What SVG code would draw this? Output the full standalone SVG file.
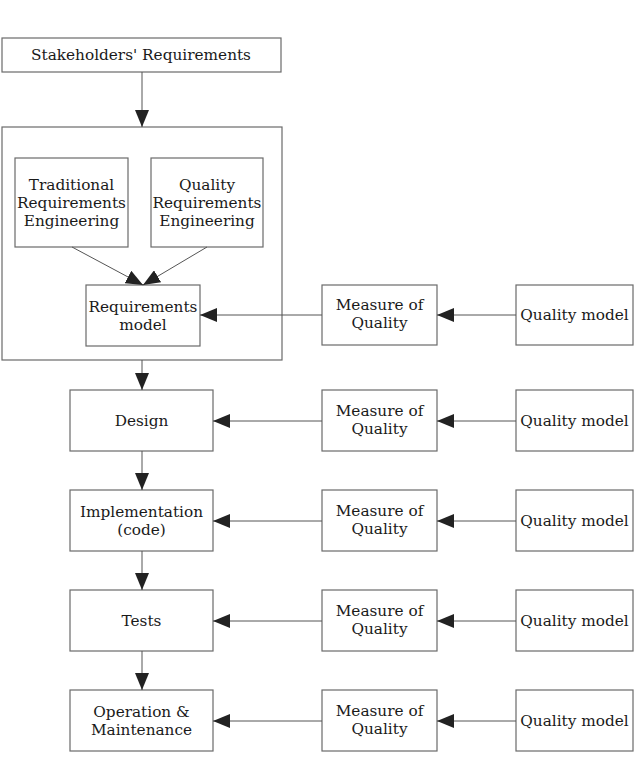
<svg xmlns="http://www.w3.org/2000/svg" width="639" height="765" viewBox="0 0 639 765">
<style>
.b{fill:#fff;stroke:#6a6a6a;stroke-width:1.2}
.t{font-family:"DejaVu Serif","Liberation Serif",serif;font-size:15.3px;fill:#1a1a1a;text-anchor:middle}
.c{stroke:#555;stroke-width:1;fill:none}
</style>
<defs>
<marker id="ah" viewBox="0 0 17 14" refX="17" refY="7" markerWidth="17" markerHeight="14" markerUnits="userSpaceOnUse" orient="auto">
<path d="M0,0 L17,7 L0,14 Z" fill="#222"/>
</marker>
</defs>
<rect width="639" height="765" fill="#fff"/>
<g id="stakeholders"><rect class="b" x="2" y="38" width="279" height="34"/><text class="t" x="141" y="60">Stakeholders' Requirements</text></g>
<g id="re-group"><rect class="b" x="2" y="127" width="280" height="233"/></g>
<g id="trad-re"><rect class="b" x="15" y="158" width="113" height="89"/><text class="t" x="71.5" y="190">Traditional</text><text class="t" x="71.5" y="208">Requirements</text><text class="t" x="71.5" y="226">Engineering</text></g>
<g id="quality-re"><rect class="b" x="151" y="158" width="112" height="89"/><text class="t" x="207" y="190">Quality</text><text class="t" x="207" y="208">Requirements</text><text class="t" x="207" y="226">Engineering</text></g>
<g id="req-model"><rect class="b" x="86" y="285" width="114" height="61"/><text class="t" x="143" y="312">Requirements</text><text class="t" x="143" y="330">model</text></g>
<g id="design"><rect class="b" x="70" y="390" width="143" height="61"/><text class="t" x="141.5" y="426">Design</text></g>
<g id="implementation"><rect class="b" x="70" y="490" width="143" height="61"/><text class="t" x="141.5" y="517">Implementation</text><text class="t" x="141.5" y="535">(code)</text></g>
<g id="tests"><rect class="b" x="70" y="590" width="143" height="61"/><text class="t" x="141.5" y="626">Tests</text></g>
<g id="operation"><rect class="b" x="70" y="690" width="143" height="61"/><text class="t" x="141.5" y="717">Operation &amp;</text><text class="t" x="141.5" y="735">Maintenance</text></g>
<g id="measure1"><rect class="b" x="322" y="285" width="115" height="60"/><text class="t" x="379.5" y="310">Measure of</text><text class="t" x="379.5" y="328">Quality</text></g>
<g id="measure2"><rect class="b" x="322" y="390" width="115" height="61"/><text class="t" x="379.5" y="416">Measure of</text><text class="t" x="379.5" y="434">Quality</text></g>
<g id="measure3"><rect class="b" x="322" y="490" width="115" height="61"/><text class="t" x="379.5" y="516">Measure of</text><text class="t" x="379.5" y="534">Quality</text></g>
<g id="measure4"><rect class="b" x="322" y="590" width="115" height="61"/><text class="t" x="379.5" y="616">Measure of</text><text class="t" x="379.5" y="634">Quality</text></g>
<g id="measure5"><rect class="b" x="322" y="690" width="115" height="61"/><text class="t" x="379.5" y="716">Measure of</text><text class="t" x="379.5" y="734">Quality</text></g>
<g id="qm1"><rect class="b" x="516" y="285" width="117" height="60"/><text class="t" x="574.5" y="320">Quality model</text></g>
<g id="qm2"><rect class="b" x="516" y="390" width="117" height="61"/><text class="t" x="574.5" y="426">Quality model</text></g>
<g id="qm3"><rect class="b" x="516" y="490" width="117" height="61"/><text class="t" x="574.5" y="526">Quality model</text></g>
<g id="qm4"><rect class="b" x="516" y="590" width="117" height="61"/><text class="t" x="574.5" y="626">Quality model</text></g>
<g id="qm5"><rect class="b" x="516" y="690" width="117" height="61"/><text class="t" x="574.5" y="726">Quality model</text></g>
<g id="connectors">
<line class="c" x1="142" y1="72" x2="142" y2="127" marker-end="url(#ah)"/>
<line class="c" x1="72" y1="247" x2="143" y2="285" marker-end="url(#ah)"/>
<line class="c" x1="207" y1="247" x2="143" y2="285" marker-end="url(#ah)"/>
<line class="c" x1="142" y1="360" x2="142" y2="390" marker-end="url(#ah)"/>
<line class="c" x1="142" y1="451" x2="142" y2="490" marker-end="url(#ah)"/>
<line class="c" x1="142" y1="551" x2="142" y2="590" marker-end="url(#ah)"/>
<line class="c" x1="142" y1="651" x2="142" y2="690" marker-end="url(#ah)"/>
<line class="c" x1="322" y1="315" x2="200" y2="315" marker-end="url(#ah)"/>
<line class="c" x1="516" y1="315" x2="437" y2="315" marker-end="url(#ah)"/>
<line class="c" x1="322" y1="421" x2="213" y2="421" marker-end="url(#ah)"/>
<line class="c" x1="516" y1="421" x2="437" y2="421" marker-end="url(#ah)"/>
<line class="c" x1="322" y1="521" x2="213" y2="521" marker-end="url(#ah)"/>
<line class="c" x1="516" y1="521" x2="437" y2="521" marker-end="url(#ah)"/>
<line class="c" x1="322" y1="621" x2="213" y2="621" marker-end="url(#ah)"/>
<line class="c" x1="516" y1="621" x2="437" y2="621" marker-end="url(#ah)"/>
<line class="c" x1="322" y1="721" x2="213" y2="721" marker-end="url(#ah)"/>
<line class="c" x1="516" y1="721" x2="437" y2="721" marker-end="url(#ah)"/>
</g>
</svg>
